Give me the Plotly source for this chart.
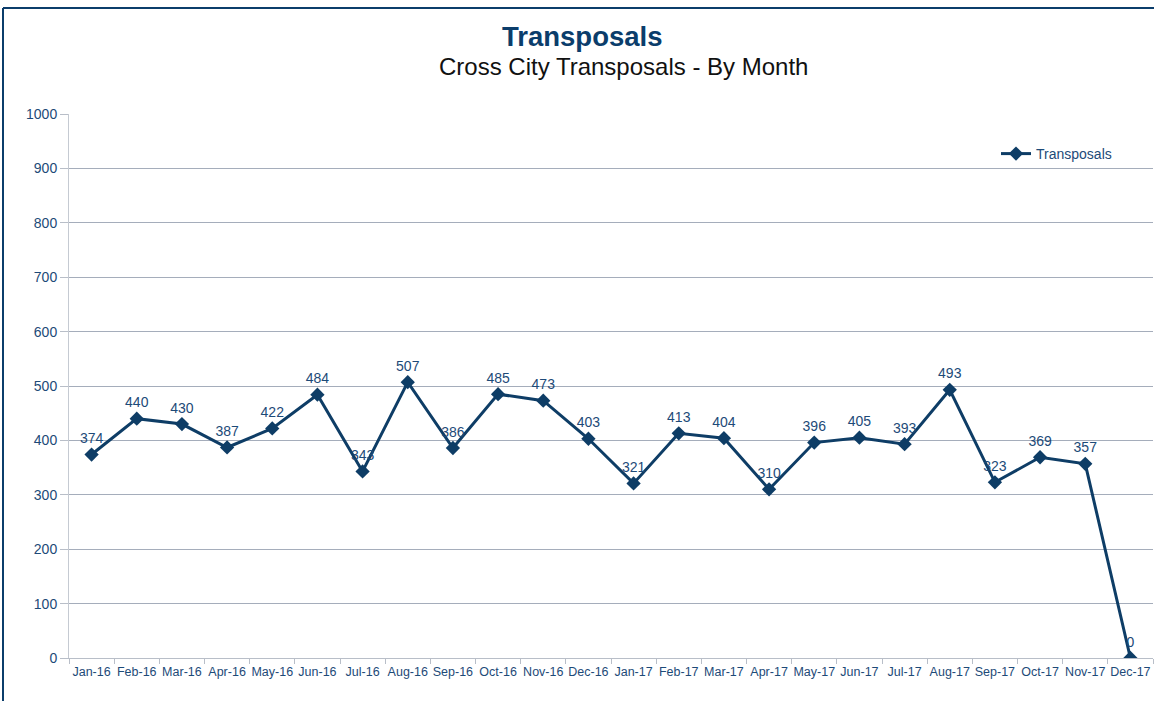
import plotly.graph_objects as go

months = ["Jan-16","Feb-16","Mar-16","Apr-16","May-16","Jun-16","Jul-16","Aug-16","Sep-16","Oct-16","Nov-16","Dec-16",
          "Jan-17","Feb-17","Mar-17","Apr-17","May-17","Jun-17","Jul-17","Aug-17","Sep-17","Oct-17","Nov-17","Dec-17"]
transposals = [374,440,430,387,422,484,343,507,386,485,473,403,321,413,404,310,396,405,393,493,323,369,357,0]
y_ticks = [0,100,200,300,400,500,600,700,800,900,1000]

NAVY = "#0E3D66"
TXT = "#1D4A78"
FONT = "Liberation Sans, Arial, sans-serif"

fig = go.Figure()
fig.add_trace(go.Scatter(
    x=months, y=transposals, mode="lines+markers+text", name="Transposals",
    line=dict(color=NAVY, width=3),
    marker=dict(symbol="diamond", size=11, color=NAVY),
    text=[str(v) for v in transposals], textposition="top center",
    textfont=dict(family=FONT, size=14, color=TXT),
))

W, H = 1154, 701
ml, mr, mt, mb = 69, 1, 114, 43
pw, ph = W - ml - mr, H - mt - mb
def px(x): return (x - ml) / pw
def py(y): return (H - mb - y) / ph

fig.update_layout(
    width=W, height=H,
    margin=dict(l=ml, r=mr, t=mt, b=mb, autoexpand=False),
    paper_bgcolor="white", plot_bgcolor="white",
    font=dict(family=FONT, color=TXT),
    showlegend=True,
    legend=dict(x=px(996), y=py(138), xanchor="left", yanchor="top",
                font=dict(family=FONT, size=14, color=TXT), bgcolor="rgba(0,0,0,0)"),
    xaxis=dict(
        type="category", showgrid=False, ticks="outside", tickson="boundaries",
        ticklen=5, tickcolor="#B8BEC8", showline=True, linecolor="#B8BEC8", linewidth=1,
        tickfont=dict(family=FONT, size=12.5, color=TXT), range=[-0.5, 23.5],
        tickangle=0, automargin=False, ticklabelstandoff=2,
    ),
    yaxis=dict(
        range=[0, 1000], tickvals=y_ticks, showgrid=True, gridcolor="#A5ADBB", gridwidth=1,
        ticks="outside", ticklen=8, tickcolor="#B8BEC8", showline=True, linecolor="#C5CAD2",
        tickfont=dict(family=FONT, size=14, color=TXT), zeroline=False, automargin=False,
    ),
    annotations=[
        dict(text="<b>Transposals</b>", xref="paper", yref="paper", x=px(582), y=py(36),
             xanchor="center", yanchor="middle", showarrow=False,
             font=dict(family=FONT, size=27.5, color="#0B3D6B")),
        dict(text="Cross City Transposals - By Month", xref="paper", yref="paper", x=px(623), y=py(66),
             xanchor="center", yanchor="middle", showarrow=False,
             font=dict(family=FONT, size=24, color="#111111")),
    ],
    shapes=[
        dict(type="line", xref="paper", yref="paper", x0=px(3), x1=px(3), y0=py(8), y1=py(H + 5),
             line=dict(color="#0B3D6B", width=2)),
        dict(type="line", xref="paper", yref="paper", x0=px(3), x1=px(W + 5), y0=py(8), y1=py(8),
             line=dict(color="#0B3D6B", width=2)),
    ],
)

fig.write_html("out.html", config={"displayModeBar": False},
               post_script="document.body.style.margin='0';document.body.style.overflow='hidden';")
